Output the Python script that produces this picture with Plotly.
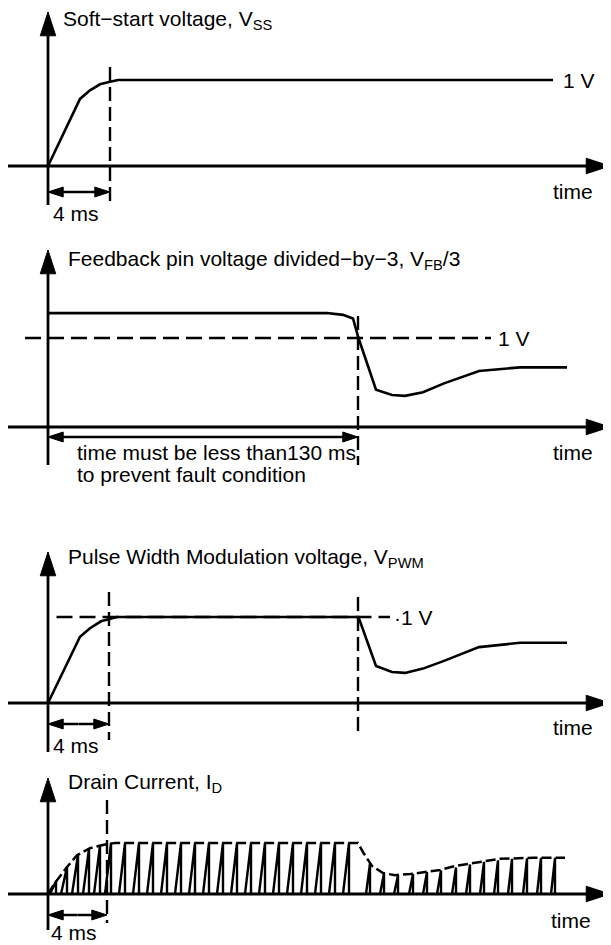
import plotly.graph_objects as go

# ---------------- data (schematic time units, 0 = start-up) ----------------
# Panel 1: soft-start voltage (relative to 1 V)
ss_t = [0, 32, 42, 52, 62, 70, 505]
ss_v = [0, 0.78, 0.88, 0.95, 0.98, 1.0, 1.0]

# Panel 2: feedback pin voltage / 3 (relative to 1 V)
fb_t = [0, 279, 295, 305, 310.5, 328, 344, 357, 375, 396, 431, 472, 519]
fb_v = [1.28, 1.28, 1.26, 1.22, 1.0, 0.42, 0.36, 0.35, 0.39, 0.49, 0.63, 0.67, 0.67]

# Panel 3: PWM voltage (relative to 1 V)
pwm_t = [0, 32, 42, 53, 69, 310.5, 328, 344, 357, 375, 396, 431, 472, 519]
pwm_v = [0, 0.77, 0.87, 0.95, 1.0, 1.0, 0.43, 0.36, 0.35, 0.40, 0.49, 0.65, 0.70, 0.70]

# Panel 4: drain current envelope (relative to full current)
env_t = [0, 7, 19, 29, 42, 59, 67, 310, 315, 324, 335, 347, 362, 377, 392, 407, 432, 452, 485, 517]
env_v = [0, 0.22, 0.53, 0.76, 0.90, 0.98, 1.0, 1.0, 0.82, 0.55, 0.41, 0.37, 0.39, 0.43, 0.47,
         0.55, 0.63, 0.69, 0.71, 0.71]

# Drain current pulses: switch-on time, switch-off time, peak current
tooth_on = [2, 13, 24, 35, 46,
            57, 71, 85, 99, 113, 127, 141, 155, 169, 183, 197, 211, 225, 239, 253, 267, 281, 295,
            318, 332, 346, 361, 375, 389, 404, 418, 432, 446, 460, 475, 489, 503]
tooth_off = [8, 19, 30, 41, 52,
             63, 77, 91, 105, 119, 133, 147, 161, 175, 189, 203, 217, 231, 245, 259, 273, 287, 301,
             322, 336, 350, 365, 379, 393, 408, 422, 436, 450, 464, 479, 493, 507]
tooth_peak = [0.25, 0.53, 0.77, 0.89, 0.96,
              1.0, 1.0, 1.0, 1.0, 1.0, 1.0, 1.0, 1.0, 1.0, 1.0, 1.0, 1.0, 1.0, 1.0, 1.0, 1.0, 1.0, 1.0,
              0.60, 0.40, 0.37, 0.39, 0.43, 0.46, 0.52, 0.58, 0.63, 0.66, 0.69, 0.70, 0.71, 0.71]

# event times
t_4ms = {1: 62, 3: 61, 4: 59}
t_130ms = 310

titles = {
    1: "Soft\u2212start voltage, V<sub>SS</sub>",
    2: "Feedback pin voltage divided\u2212by\u22123, V<sub>FB</sub>/3",
    3: "Pulse Width Modulation voltage, V<sub>PWM</sub>",
    4: "Drain Current, I<sub>D</sub>",
}

# ---------------- layout geometry (window pixels) ----------------
OFF = 8            # page body margin
W, H = 611 - OFF, 945 - OFF
X0 = 48            # window pixel of t = 0
P = {
    1: dict(top=8, bot=235, base=166, one=80, tip=12, low=205),
    2: dict(top=235, bot=520, base=427, one=338, tip=250, low=465),
    3: dict(top=520, bot=765, base=703, one=617, tip=552, low=752),
    4: dict(top=765, bot=945, base=894, one=843, tip=778, low=930),
}


def v(p, py):
    d = P[p]
    return (d["base"] - py) / (d["base"] - d["one"])


FONT = "Liberation Sans, Arial, Helvetica, sans-serif"
FS = 21
BLACK = "black"

fig = go.Figure()


def yref(p):
    return "y" if p == 1 else f"y{p}"


def line(p, x, y, width=2.6, dash=None):
    fig.add_trace(go.Scatter(x=x, y=y, mode="lines", xaxis="x", yaxis=yref(p),
                             line=dict(color=BLACK, width=width, dash=dash),
                             hoverinfo="skip", showlegend=False, cliponaxis=False))


def arrow(p, x, y, width=2.8, head=25):
    fig.add_trace(go.Scatter(x=x, y=y, mode="lines+markers", xaxis="x", yaxis=yref(p),
                             line=dict(color=BLACK, width=width),
                             marker=dict(symbol="arrow", size=[0] * (len(x) - 1) + [head],
                                         angleref="previous", color=BLACK, opacity=1,
                                         line=dict(width=1, color=BLACK)),
                             hoverinfo="skip", showlegend=False, cliponaxis=False))


def dbl_arrow(p, t0, t1, py):
    yy = v(p, py)
    mid = (t0 + t1) / 2
    arrow(p, [mid, t0], [yy, yy], width=2.5, head=16)
    arrow(p, [mid, t1], [yy, yy], width=2.5, head=16)


DASH_V = "14px,6px"
DASH_H = "16px,7px"

for p in P:
    d = P[p]
    arrow(p, [0, 0], [v(p, d["low"]), v(p, d["tip"])])
    arrow(p, [-40, 562], [0, 0])

# Panel 1
line(1, ss_t, ss_v)
line(1, [t_4ms[1], t_4ms[1]], [v(1, 67), v(1, 205)], width=2.4, dash=DASH_V)
dbl_arrow(1, 0, t_4ms[1], 192)

# Panel 2
line(2, [-23, 443], [1, 1], width=2.4, dash=DASH_H)
line(2, fb_t, fb_v)
line(2, [t_130ms, t_130ms], [v(2, 316), v(2, 465)], width=2.4, dash=DASH_V)
dbl_arrow(2, 0, t_130ms, 437)

# Panel 3
line(3, [8.5, 342], [1, 1], width=2.4, dash=DASH_H)
line(3, pwm_t, pwm_v)
line(3, [t_4ms[3], t_4ms[3]], [v(3, 592), v(3, 740)], width=2.4, dash=DASH_V)
line(3, [t_130ms, t_130ms], [v(3, 597), v(3, 735)], width=2.4, dash=DASH_V)
dbl_arrow(3, 0, t_4ms[3], 724)

# Panel 4
tx, ty = [], []
for on, off, pk in zip(tooth_on, tooth_off, tooth_peak):
    tx += [on, off, off, None]
    ty += [0, pk, 0, None]
line(4, tx, ty, width=2.4)
line(4, env_t, env_v, width=2.5, dash="10px,4px")
line(4, [t_4ms[4], t_4ms[4]], [v(4, 800), v(4, 923)], width=2.4, dash=DASH_V)
dbl_arrow(4, 0, t_4ms[4], 915)

# ---------------- texts (window pixel positions) ----------------
texts = [
    (titles[1], 61, 20),
    ("1 V", 561, 80),
    ("time", 551, 192),
    ("4 ms", 51, 213),
    (titles[2], 66, 260),
    ("1 V", 496, 338),
    ("time must be less than130 ms", 75, 452),
    ("to prevent fault condition", 75, 475),
    ("time", 551, 452),
    (titles[3], 66, 558),
    ("\u00b71 V", 392, 617),
    ("time", 551, 727),
    ("4 ms", 51, 745),
    (titles[4], 66, 783),
    ("time", 549, 920),
    ("4 ms", 49, 932),
]
annotations = []
for txt, px, py in texts:
    annotations.append(dict(text=txt, x=(px - OFF) / W, y=1 - (py - OFF) / H,
                            xref="paper", yref="paper",
                            xanchor="left", yanchor="middle", showarrow=False,
                            font=dict(family=FONT, size=FS, color=BLACK)))

layout = dict(
    width=W, height=H, autosize=False,
    margin=dict(l=0, r=0, t=0, b=0),
    paper_bgcolor="white", plot_bgcolor="white",
    showlegend=False,
    annotations=annotations,
    xaxis=dict(range=[OFF - X0, OFF - X0 + W], domain=[0, 1], visible=False, fixedrange=True),
)
for p in P:
    d = P[p]
    key = "yaxis" if p == 1 else f"yaxis{p}"
    layout[key] = dict(domain=[1 - (d["bot"] - OFF) / H, 1 - (d["top"] - OFF) / H],
                       range=[v(p, d["bot"]), v(p, d["top"])],
                       anchor="x", visible=False, fixedrange=True)
fig.update_layout(**layout)

fig.write_html("out.html", config={"displayModeBar": False, "staticPlot": True})
